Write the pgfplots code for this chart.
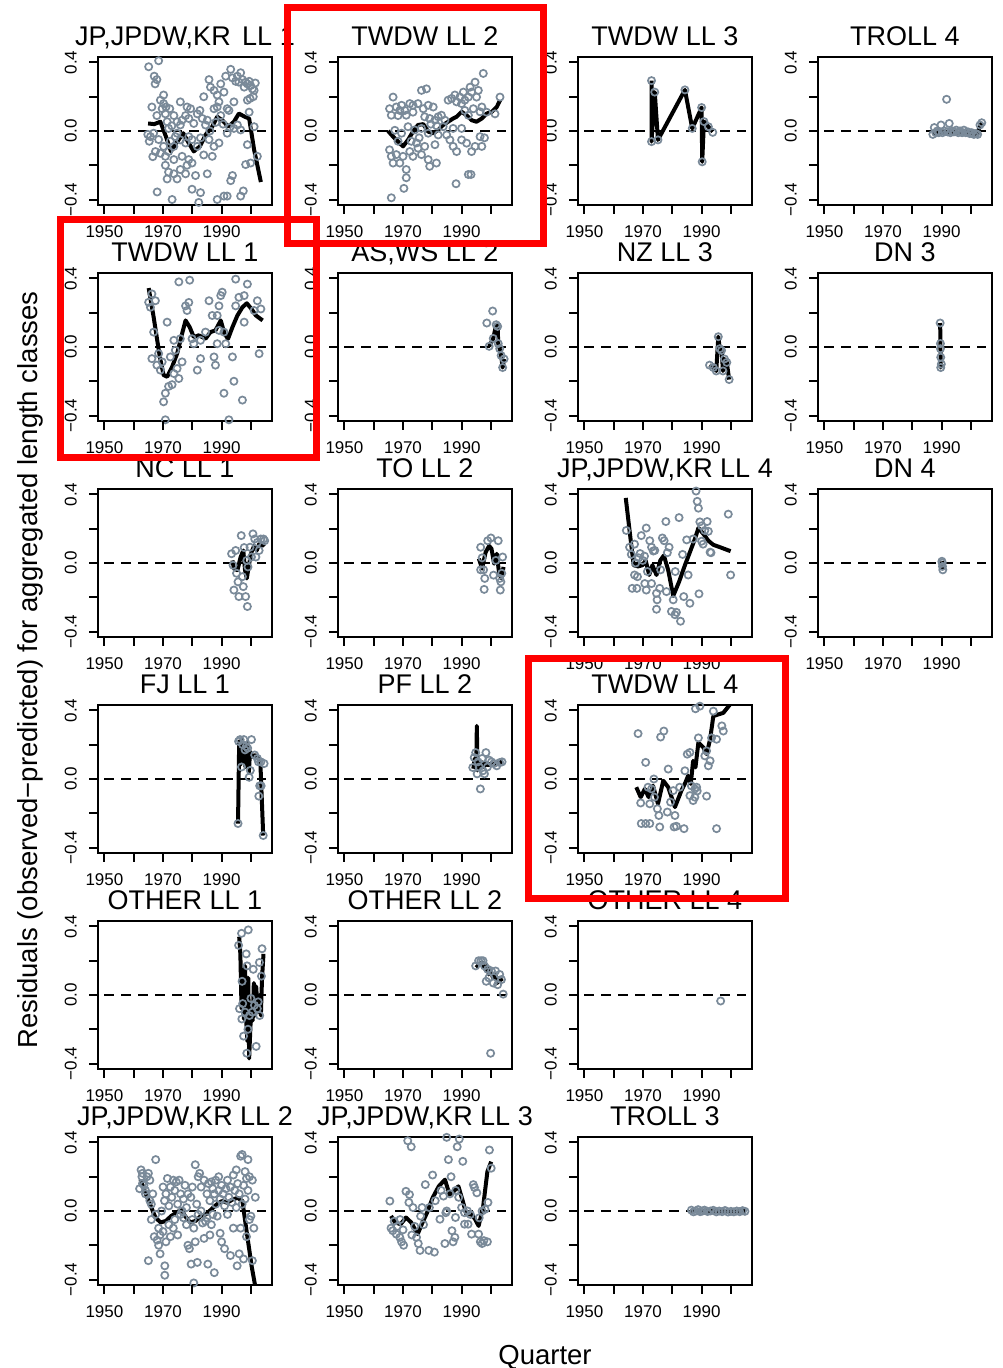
\documentclass[border=0pt]{standalone}
\usepackage{pgfplots}
\pgfplotsset{compat=1.18}
\usepackage{fontspec}
\setmainfont{Liberation Sans}
\definecolor{ptcol}{RGB}{122,138,153}
\newcommand\ticksize{\fontsize{17}{17}\selectfont}
\newcommand\titlesize{\fontsize{27}{27}\selectfont}
\pgfplotsset{
  panel/.style={
    scale only axis, width=174pt, height=148pt, anchor=south west,
    xmin=1947.8, xmax=2007.2, ymin=-0.432, ymax=0.432,
    xtick={1950,1960,1970,1980,1990,2000}, xticklabels={1950,,1970,,1990,},
    ytick={-0.4,-0.2,0,0.2,0.4}, yticklabels={−0.4,,0.0,,0.4},
    tick align=outside, major tick length=8pt,
    every major tick/.append style={black, line width=2pt},
    axis line style={black, line width=2pt},
    xtick pos=left, ytick pos=left,
    tick label style={font=\ticksize},
    xticklabel style={anchor=north, inner sep=0pt, yshift=-12pt},
    yticklabel style={rotate=90, anchor=south, inner sep=0pt, yshift=13pt},
    title style={font=\titlesize, at={(0.5,1)}, anchor=base, yshift=5pt, inner sep=0pt},
  },
  pts/.style={only marks, mark=o, mark size=3.6pt, mark options={draw=ptcol, line width=1.7pt}},
  ln/.style={black, line width=4pt, no marks, line join=round},
  zl/.style={black, line width=1.9pt, dash pattern=on 10pt off 7pt, no marks},
}
\newcommand\zeroline{\addplot[zl] coordinates {(1950,0) (2005,0)};}
\begin{document}
\begin{tikzpicture}[x=1pt,y=1pt]
\useasboundingbox (0,0) rectangle (1003,1368);

% ---------- Row 1 ----------
\begin{axis}[panel, at={(98pt,1163pt)}, title={JP,JPDW,KR\ \hspace{4pt}LL 1}]
\zeroline
\addplot[pts] coordinates {(1965.1,0.375)(1968.5,0.41)(1967.0,0.32)(1967.9,0.30)(1967.3,0.275)(1970.2,0.21)(1969.1,0.18)
(1970.2,0.16)(1969.7,0.13)(1970.8,0.10)(1967.9,0.09)(1966.2,0.14)(1971.4,0.054)(1971.9,0.015)(1966.8,-0.013)(1965.7,-0.033)(1968.5,-0.05)(1970.2,-0.09)(1971.9,-0.12)(1973.7,-0.09)(1969.1,-0.13)(1970.8,-0.2)(1971.9,-0.24)(1973.7,-0.25)(1971.4,-0.28)(1974.8,-0.28)(1973.1,-0.4)(1975.9,-0.225)(1977.7,-0.25)(1978.2,-0.2)(1979.9,-0.187)(1981.1,-0.26)(1979.9,-0.34)(1982.8,-0.36)(1982.2,-0.417)(1985.1,-0.25)(1983.9,-0.14)(1986.8,-0.148)(1988.5,-0.4)(1990.8,-0.38)(1991.9,-0.38)(1993.1,-0.29)(1993.7,-0.26)(1996.5,-0.38)(1997.4,-0.35)(1998.2,-0.196)(1999.9,-0.187)(1998.8,-0.08)(2002.2,-0.148)(2001.1,0.025)
(1975.9,0.17)(1978.2,0.14)(1979.4,0.13)(1976.5,0.063)(1977.7,0.09)(1974.8,0.054)(1975.9,0.035)(1973.7,0.09)(1978.8,0.073)(1980.5,0.044)(1981.7,0.10)(1982.6,0.12)(1983.9,0.2)(1983.4,0.073)(1984.5,0.035)(1985.1,0.063)(1985.7,0.30)(1986.2,0.256)(1987.4,0.13)(1988.5,0.14)(1989.1,0.17)(1989.7,0.275)(1989.7,0.09)(1990.8,0.227)(1991.4,0.32)(1991.9,0.13)(1992.5,0.12)(1993.1,0.36)(1993.7,0.31)(1994.2,0.17)(1994.8,0.29)(1995.4,0.32)(1995.9,0.285)(1996.5,0.34)(1997.1,0.30)(1997.7,0.256)(1998.2,0.285)(1998.8,0.275)(1999.4,0.29)(1999.9,0.265)(2000.5,0.246)(2001.1,0.237)(1999.7,0.19)(1998.8,0.18)(1995.4,0.035)(1994.2,0.015)(1996.5,0.006)(1999.4,0.11)(1988.5,0.21)(1987.4,0.237)
(1974.2,-0.033)(1975.9,-0.052)(1977.7,-0.07)(1978.8,-0.033)(1979.9,-0.05)(1981.7,-0.09)(1982.8,-0.04)(1985.7,-0.05)(1987.4,-0.09)(1989.1,-0.07)(1991.9,-0.013)(1976.5,-0.148)(1978.8,-0.167)(1973.7,-0.167)(1974.8,-0.013)(1972.5,-0.06)(1970.8,-0.148)(1967.4,-0.12)(1964.8,-0.02)(1965.3,-0.06)(1966.5,-0.15)(1968,-0.356)(1972.3,0.13)(1971.0,0.14)(1973.0,0.03)(1992.8,0.02)(1990.5,0.04)(1986.0,0.0)(1988.0,0.05)(2000.8,0.2)(2001.5,0.28)};
\addplot[ln] coordinates {(1964.9,0.044)(1967.0,0.040)(1969.1,0.054)(1971.0,-0.033)(1972.7,-0.119)(1974.5,-0.071)(1976.9,-0.013)(1978.8,-0.071)(1980.5,-0.119)(1982.6,-0.090)(1984.5,-0.023)(1986.8,0.025)(1988.5,0.083)(1990.2,0.063)(1992.3,0.025)(1994.2,0.054)(1995.9,0.102)(1997.9,0.083)(1999.4,0.073)(2001.1,-0.110)(2003.4,-0.298)};
\end{axis}

\begin{axis}[panel, at={(338pt,1163pt)}, title={TWDW LL 2}]
\zeroline
\addplot[pts] coordinates {(1966.6,0.198)(1965.4,0.13)(1966,0.092)(1967.7,0.14)(1968.9,0.12)(1969.5,0.15)(1968.3,0.09)(1970.6,0.12)(1971.1,0.092)(1972.3,0.16)(1973.4,0.15)(1973.4,0.11)(1975.1,0.16)(1976.3,0.237)(1978,0.246)(1976.9,0.13)(1978.6,0.15)(1980.3,0.14)(1977.4,0.083)(1979.1,0.073)(1980.9,0.063)(1982,0.083)(1983.1,0.092)(1984.3,0.063)(1985.4,0.18)(1986.6,0.19)(1987.7,0.21)(1988.3,0.17)(1989.4,0.198)(1990.6,0.227)(1991.1,0.18)(1992.3,0.198)(1992.9,0.256)(1993.4,0.227)(1994.6,0.285)(1995.1,0.198)(1995.7,0.237)(1997.4,0.336)(1996.9,0.14)(1996.3,0.112)(1994,0.13)(1992.3,0.092)(1991.1,0.12)(1990,0.16)
(1965.4,-0.11)(1966,-0.148)(1966.6,-0.187)(1967.7,-0.138)(1968.9,-0.187)(1970,-0.148)(1971.1,-0.225)(1972.3,-0.12)(1973.4,-0.148)(1974.6,-0.07)(1975.1,-0.1)(1976.3,-0.138)(1977.4,-0.09)(1978.6,-0.167)(1979.1,-0.206)(1980.9,-0.08)(1981.4,-0.187)(1984.9,-0.023)(1986,-0.052)(1987.1,-0.09)(1988.3,-0.12)(1990,-0.052)(1991.7,-0.071)(1993.4,-0.12)(1994.6,-0.09)(1996.3,-0.033)(1996.9,-0.09)(1966,-0.39)(1970.3,-0.335)(1971.1,-0.273)(1988.1,-0.308)(1992.3,-0.254)(1993.2,-0.254)(2003.1,0.198)(2001.4,0.10)(1998.5,0.11)(1997.8,-0.04)
(1967.2,0.004)(1969.5,-0.013)(1971.7,0.025)(1974,0.006)(1976.3,0.015)(1978.6,-0.013)(1982,-0.023)(1983.7,0.025)(1987.1,0.015)(1990,0.015)(1972.8,-0.06)(1975.5,-0.04)(1979.5,0.04)(1968.3,-0.06)(1981.5,0.03)};
\addplot[ln] coordinates {(1964.9,0)(1966.6,-0.033)(1968.3,-0.062)(1970.0,-0.09)(1971.7,-0.052)(1973.4,-0.004)(1975.1,0.035)(1976.9,0.04)(1978.6,-0.004)(1980.3,-0.013)(1982.0,0.006)(1983.7,0.035)(1985.4,0.054)(1987.1,0.073)(1988.3,0.083)(1990.0,0.112)(1991.7,0.092)(1993.4,0.063)(1995.1,0.054)(1996.9,0.073)(1998.6,0.102)(2000.3,0.112)(2002.0,0.14)(2003.1,0.179)};
\end{axis}

\begin{axis}[panel, at={(578pt,1163pt)}, title={TWDW LL 3}]
\zeroline
\addplot[pts] coordinates {(1972.9,0.294)(1972.9,-0.062)(1974.0,0.227)(1975.1,-0.052)(1984.3,0.24)(1986.8,0.015)(1990,0.137)(1990.2,-0.18)(1990.8,0.055)(1992.3,0.025)(1993.8,-0.008)};
\addplot[ln] coordinates {(1972.9,0.294)(1972.9,-0.062)(1974.0,0.227)(1975.1,-0.052)(1984.3,0.24)(1986.8,0.015)(1990,0.137)(1990.2,-0.18)(1990.8,0.055)(1992.3,0.025)(1993.8,-0.004)};
\end{axis}

\begin{axis}[panel, at={(818pt,1163pt)}, title={TROLL 4}]
\zeroline
\addplot[pts] coordinates {(1987.0,-0.02)(1987.5,0.02)(1988,-0.01)(1988.5,0.0)(1989,-0.01)(1989.8,0.035)(1990.3,-0.01)(1991,0.0)(1991.7,0.185)(1992,-0.005)(1992.6,0.044)(1993,-0.01)(1993.6,0.0)(1994.2,-0.005)(1995,0.005)(1995.7,-0.01)(1996.3,0.0)(1997,-0.01)(1997.6,0.005)(1998.2,-0.01)(1999,-0.005)(1999.6,-0.015)(2000.3,-0.01)(2001,-0.02)(2001.7,-0.015)(2002.3,-0.02)(2003.1,0.035)(2003.7,0.048)};
\addplot[ln] coordinates {(1987,-0.015)(1988,-0.01)(1989,-0.005)(1990,-0.01)(1991,-0.005)(1992,-0.008)(1993,-0.01)(1994,-0.005)(1995,-0.008)(1996,-0.01)(1997,-0.008)(1998,-0.01)(1999,-0.012)(2000,-0.012)(2001,-0.015)(2002,-0.018)(2002.7,0.01)(2003.2,0.035)(2003.7,0.045)};
\end{axis}

% ---------- Row 2 ----------
\begin{axis}[panel, at={(98pt,947pt)}, title={TWDW LL 1}]
\zeroline
\addplot[pts] coordinates {(1965.1,0.261)(1965.7,0.232)(1967.4,0.27)(1966.2,0.31)(1966.8,0.087)(1966.2,-0.068)(1967.9,-0.106)(1969.1,-0.135)(1968.5,-0.039)(1969.7,-0.087)(1970.8,-0.27)(1970.2,-0.32)(1971.9,-0.23)(1973.1,-0.22)(1970.8,-0.425)(1971.4,0.145)(1972.5,-0.058)(1973.7,0.039)(1975.9,0.048)(1974.2,-0.019)(1976.5,-0.087)(1974.8,-0.126)(1975.4,-0.184)(1973.7,-0.155)(1975.4,0.38)(1979.1,0.39)(1977.7,0.24)(1978.8,0.26)(1978.2,0.213)(1979.9,0.048)(1981.7,-0.135)(1982.8,-0.068)(1985.7,0.27)(1986.8,0.184)(1987.4,-0.058)(1987.9,-0.106)(1988.5,0.184)(1989.1,0.24)(1989.7,0.3)(1990.2,0.32)(1988.5,0.019)(1990.8,0.087)(1991.4,0.019)(1990.8,-0.27)(1992.5,-0.425)(1993.7,-0.058)(1994.2,-0.2)(1994.8,0.396)(1995.9,0.29)(1997.1,-0.31)(1997.7,0.3)(1998.8,0.367)(1997.7,0.145)(2002.2,0.27)(2003.4,0.222)(2002.8,-0.039)(2001.1,0.213)(1994.8,0.24)(1989.1,0.097)(1984.5,0.087)(1982.8,0.039)(1980.5,0.019)};
\addplot[ln] coordinates {(1965.1,0.344)(1966.8,0.174)(1968.9,-0.058)(1970.2,-0.164)(1971.4,-0.174)(1973.1,-0.116)(1974.8,-0.039)(1976.5,0.077)(1977.7,0.155)(1979.1,0.116)(1980.5,0.058)(1982.2,0.068)(1984.5,0.048)(1986.2,0.087)(1987.9,0.097)(1989.7,0.155)(1991.0,0.077)(1992.2,0.048)(1993.7,0.116)(1995.4,0.184)(1997.1,0.232)(1998.6,0.255)(2000.2,0.222)(2001.7,0.184)(2004.0,0.155)};
\end{axis}

\begin{axis}[panel, at={(338pt,947pt)}, title={AS,WS LL 2}]
\zeroline
\addplot[pts] coordinates {(1998.6,0.14)(2000.6,0.21)(1999.4,0.004)(2000.8,0.05)(2001.8,0.13)(2002.3,0.12)(2002.5,0.02)(2003.0,-0.01)(2003.5,-0.05)(2004.0,-0.12)(2004.5,-0.07)};
\addplot[ln] coordinates {(1999.4,0.004)(2000.8,0.05)(2001.8,0.13)(2002.3,0.12)(2002.5,0.02)(2003.0,-0.01)(2003.5,-0.05)(2004.0,-0.12)(2004.5,-0.07)};
\end{axis}

\begin{axis}[panel, at={(578pt,947pt)}, title={NZ LL 3}]
\zeroline
\addplot[pts] coordinates {(1992.7,-0.106)(1994.0,-0.12)(1995.0,-0.14)(1995.7,0.06)(1996.2,-0.01)(1996.8,-0.02)(1997.3,-0.14)(1997.8,-0.07)(1998.6,-0.09)(1999.4,-0.19)};
\addplot[ln] coordinates {(1992.7,-0.106)(1994.0,-0.12)(1995.0,-0.14)(1995.7,0.06)(1996.2,-0.01)(1996.8,-0.02)(1997.3,-0.14)(1997.8,-0.07)(1998.6,-0.09)(1999.4,-0.19)};
\end{axis}

\begin{axis}[panel, at={(818pt,947pt)}, title={DN 3}]
\zeroline
\addplot[pts] coordinates {(1989.5,0.14)(1989.6,0.02)(1989.6,-0.01)(1989.7,-0.06)(1989.7,-0.12)(1989.9,-0.10)};
\addplot[ln] coordinates {(1989.5,0.14)(1989.6,0.02)(1989.6,-0.01)(1989.7,-0.06)(1989.7,-0.12)(1989.9,-0.10)};
\end{axis}

% ---------- Row 3 ----------
\begin{axis}[panel, at={(98pt,731pt)}, title={NC LL 1}]
\zeroline
\addplot[pts] coordinates {(1993.4,0.054)(1993.9,-0.013)(1994.2,-0.158)(1994.8,0.073)(1995.6,-0.11)(1995.9,-0.196)(1996.7,0.16)(1997.1,-0.08)(1997.4,-0.138)(1998.2,-0.196)(1998.8,-0.254)(1999,-0.023)(1999.7,0.092)(2000.2,0.035)(2000.7,0.17)(2001.3,0.14)(2001.7,0.035)(2002.2,0.12)(2002.8,0.073)(2003.4,0.14)(2004.3,0.14)(2004.7,0.13)(1998.6,0.015)(1995.1,-0.06)(1997.7,0.09)};
\addplot[ln] coordinates {(1993.7,0.015)(1994.2,-0.033)(1995.4,-0.042)(1996.5,0.035)(1997.4,0.073)(1998,-0.042)(1998.6,-0.09)(1999.4,-0.004)(2000.2,0.063)(2001.1,0.10)(2002,0.073)(2002.8,0.11)(2003.9,0.10)(2004.7,0.115)};
\end{axis}

\begin{axis}[panel, at={(338pt,731pt)}, title={TO LL 2}]
\zeroline
\addplot[pts] coordinates {(1996.5,0.092)(1997,0.03)(1997.5,-0.04)(1997.9,-0.09)(1997.7,-0.154)(1998.9,0.13)(2000.0,0.146)(2000.9,-0.071)(2002.5,0.13)(2003.2,-0.158)(2003.0,-0.09)(2003.4,-0.11)(2004.0,0.035)(2003.7,-0.06)(1996.5,-0.04)(2001.7,0.015)};
\addplot[ln] coordinates {(1995.9,0.025)(1997,-0.033)(1998.2,0.063)(1999.4,0.10)(2000.2,0.083)(2001.1,-0.004)(2002,0.054)(2002.8,-0.06)(2003.6,-0.09)(2004.3,-0.023)};
\end{axis}

\begin{axis}[panel, at={(578pt,731pt)}, title={JP,JPDW,KR LL 4}]
\zeroline
\addplot[pts] coordinates {(1964.3,0.19)(1965.4,0.092)(1966,0.05)(1967.1,0.11)(1966.3,-0.148)(1967.1,-0.07)(1968.1,-0.08)(1967.9,-0.148)(1969.4,0.16)(1969,0.055)(1969.9,0.015)(1970.6,-0.12)(1971.1,0.204)(1971.1,-0.158)(1972.3,0.13)(1972.9,0.092)(1973.5,0.07)(1972.9,-0.12)(1974,0.073)(1974.6,-0.177)(1974.8,-0.215)(1974.6,-0.27)(1975.7,-0.148)(1976.6,0.146)(1977.2,0.13)(1977.8,0.242)(1978,-0.167)(1978.3,0.06)(1978.9,0.092)(1979.7,-0.283)(1980.3,-0.215)(1980.9,-0.302)(1981.4,-0.288)(1982.3,0.265)(1982.8,-0.34)(1983.5,0.05)(1983.9,-0.196)(1984.9,0.135)(1985.4,-0.07)(1986,-0.235)(1987.1,0.14)(1988.1,0.42)(1988.5,0.36)(1988.9,0.32)(1989.1,-0.18)(1989.4,0.24)(1990,0.127)(1990.5,0.11)(1991.9,0.242)(1992.3,0.185)(1992.9,0.063)(1993.2,0.06)(1990,0.217)(1999.1,0.285)(1999.9,-0.07)(1991.1,0.19)(1967.5,0.0)(1968.5,0.03)(1971.5,-0.05)(1976,-0.04)(1981,-0.05)(1970.5,0.04)};
\addplot[ln] coordinates {(1964.1,0.38)(1965.4,0.19)(1966.8,-0.013)(1968.3,-0.02)(1969.8,-0.013)(1970.9,0.015)(1972.1,-0.07)(1973.2,-0.013)(1974.6,-0.07)(1975.9,0.015)(1977.1,0.044)(1978.6,-0.042)(1980.3,-0.192)(1982.3,-0.11)(1984.3,-0.013)(1986.0,0.063)(1987.7,0.14)(1988.9,0.204)(1990.6,0.17)(1992.3,0.13)(1994.0,0.106)(1996.3,0.092)(1998.3,0.079)(1999.9,0.069)};
\end{axis}

\begin{axis}[panel, at={(818pt,731pt)}, title={DN 4}]
\zeroline
\addplot[pts] coordinates {(1990.1,0.01)(1990.2,0.0)(1990.3,-0.02)(1990.4,-0.04)};
\addplot[ln] coordinates {(1990.1,0.01)(1990.3,-0.03)(1990.4,-0.04)};
\end{axis}

% ---------- Row 4 ----------
\begin{axis}[panel, at={(98pt,515pt)}, title={FJ LL 1}]
\zeroline
\addplot[pts] coordinates {(1995.6,-0.26)(1995.8,0.22)(1996.3,0.23)(1996.8,0.07)(1997.2,0.2)(1997.6,0.23)(1998,0.17)(1998.4,0.19)(1998.9,0.18)(1999.4,0.01)(2000.2,0.23)(1999.8,0.05)(2001.3,0.14)(2002.2,0.12)(2002.6,0.1)(2003,-0.04)(2002.7,-0.1)(2003.4,0.1)(2004.5,0.09)(2004.2,-0.33)(2003.5,-0.04)};
\addplot[ln] coordinates {(1995.6,-0.26)(1996.0,0.22)(1996.3,0.08)(1996.6,0.14)(1997.0,0.23)(1997.4,0.1)(1997.8,0.2)(1998.1,0.07)(1998.3,0.13)(1998.8,0.21)(1999.3,0.04)(1999.7,0.16)(2000.5,0.13)(2001.5,0.14)(2002.5,0.12)(2003.2,0.11)(2004.2,-0.33)};
\end{axis}

\begin{axis}[panel, at={(338pt,515pt)}, title={PF LL 2}]
\zeroline
\addplot[pts] coordinates {(1993.8,0.067)(1994.3,0.125)(1994.8,0.154)(1995.3,0.03)(1996.4,-0.058)(1997.3,0.048)(1998.3,0.154)(1998.8,0.07)(1997.8,0.03)(1997,0.12)(2002,0.077)(2003,0.096)(2000.2,0.1)(2001,0.09)(1999.4,0.11)(1996,0.07)(1995.6,0.1)(2003.8,0.1)};
\addplot[ln] coordinates {(1994.0,0.06)(1994.5,0.12)(1995.0,0.08)(1995.2,0.31)(1995.4,0.05)(1995.8,0.09)(1996.3,0.06)(1996.8,0.1)(1997.5,0.07)(1998.2,0.09)(1999,0.08)(2000,0.09)(2001.5,0.09)(2003,0.1)(2004,0.1)};
\end{axis}

\begin{axis}[panel, at={(578pt,515pt)}, title={TWDW LL 4}]
\zeroline
\addplot[pts] coordinates {(1968.3,0.265)(1970.9,0.097)(1969.2,-0.14)(1969.4,-0.26)(1970.9,-0.26)(1972.3,-0.26)(1972.3,-0.145)(1971.7,-0.048)(1972.9,-0.058)(1973.7,0.0)(1973.9,-0.106)(1974.9,-0.174)(1975.4,-0.213)(1975.7,-0.28)(1976,0.245)(1977.1,0.28)(1978.3,-0.193)(1978.6,0.058)(1979.4,-0.135)(1980.3,-0.068)(1980.9,-0.213)(1980.6,-0.28)(1981.4,-0.276)(1982.5,-0.048)(1984,-0.29)(1984.3,0.048)(1985.1,0.145)(1986,0.155)(1986,-0.097)(1987.1,-0.126)(1987.7,-0.106)(1987.7,-0.058)(1988.3,-0.048)(1987.9,0.41)(1988.9,0.24)(1989.4,0.425)(1991.1,0.135)(1991.7,0.164)(1991.7,-0.1)(1992.3,0.077)(1992.9,0.106)(1993.4,0.24)(1994,0.396)(1995.1,-0.29)(1995.1,0.232)(1996.9,0.31)(1997.4,0.28)(1988.5,-0.07)(1986.5,-0.04)};
\addplot[ln] coordinates {(1967.7,-0.048)(1969.2,-0.106)(1970.6,-0.058)(1971.9,-0.106)(1973.4,-0.039)(1975.1,-0.145)(1976.9,-0.01)(1978.6,-0.048)(1980.9,-0.164)(1983.1,-0.068)(1984.5,-0.019)(1985.4,0.019)(1986.3,-0.029)(1987.1,0.106)(1987.9,0.068)(1988.9,0.213)(1990.6,0.184)(1991.7,0.145)(1992.9,0.232)(1994.0,0.367)(1995.7,0.377)(1997.4,0.386)(1999.7,0.435)};
\end{axis}

% ---------- Row 5 ----------
\begin{axis}[panel, at={(98pt,299pt)}, title={OTHER LL 1}]
\zeroline
\addplot[pts] coordinates {(1995.8,0.29)(1996.8,0.36)(1999.1,0.38)(1998.4,0.24)(1998.7,0.17)(2000.8,0.15)(2002.9,0.19)(2003.8,0.27)(2003.6,0.11)(1996.1,-0.08)(1996.9,-0.14)(1997.5,-0.24)(1998.6,-0.34)(2001.8,-0.3)(2002.2,-0.08)(2002.5,-0.04)(1997.2,-0.05)(1998,-0.1)(1999.5,-0.12)(2000,-0.02)(2000.5,-0.1)(2001.2,-0.06)(2003,-0.12)(1997,0.08)(1999,-0.2)};
\addplot[ln] coordinates {(1996,0.34)(1996.4,0.24)(1996.8,-0.08)(1997.2,0.05)(1997.6,-0.14)(1998,0.17)(1998.4,-0.15)(1998.8,-0.27)(1999.1,0.1)(1999.4,-0.37)(1999.8,-0.2)(2000.2,-0.05)(2000.6,-0.15)(2001,0.07)(2001.4,-0.12)(2001.8,0.05)(2002.2,-0.06)(2002.6,-0.1)(2003,0.0)(2003.4,-0.12)(2003.8,0.1)(2004.3,0.24)};
\end{axis}

\begin{axis}[panel, at={(338pt,299pt)}, title={OTHER LL 2}]
\zeroline
\addplot[pts] coordinates {(1994.8,0.17)(1995.8,0.2)(1996.6,0.2)(1997.3,0.2)(1997.8,0.17)(1998.4,0.08)(1998.9,0.15)(1999.3,0.1)(2000.2,0.14)(2000.8,0.07)(2001.6,0.14)(2002.3,0.06)(2003,0.12)(2003.6,0.09)(2004.2,0.005)(1999.9,-0.34)};
\addplot[ln] coordinates {(1995,0.16)(1996,0.18)(1997,0.19)(1998,0.15)(1998.7,0.17)(1999.3,0.12)(2000,0.14)(2000.7,0.1)(2001.5,0.12)(2002.2,0.07)(2003,0.1)(2003.8,0.08)};
\end{axis}

\begin{axis}[panel, at={(578pt,299pt)}, title={OTHER LL 4}]
\zeroline
\addplot[pts] coordinates {(1996.5,-0.035)};
\end{axis}

% ---------- Row 6 ----------
\begin{axis}[panel, at={(98pt,83pt)}, title={JP,JPDW,KR LL 2}]
\zeroline
\addplot[pts] coordinates {(1962,0.13)(1962.5,0.24)(1963,0.22)(1962.8,0.2)(1963.5,0.15)(1964,0.12)(1964.5,0.2)(1965,0.22)(1965.5,0.18)(1964,0.1)(1963,0.16)(1965.5,0.06)(1966,0.04)(1966,-0.05)(1965,-0.29)(1966.5,0.1)(1967,-0.15)(1967.5,0.3)
(1967.5,-0.02)(1968,-0.17)(1968.5,-0.1)(1968.5,-0.2)(1969,-0.14)(1969,-0.25)(1969.5,0.0)(1970,-0.12)(1970,0.14)(1970.5,0.06)(1970.6,-0.32)(1970.6,-0.375)(1971,0.1)(1971,-0.18)(1971.5,0.19)(1972,-0.08)(1972,0.03)(1972.5,0.14)(1972.5,-0.15)
(1973,0.08)(1973.5,0.18)(1973.5,-0.1)(1974,0.12)(1974,-0.05)(1974.5,0.17)(1975,0.04)(1975,-0.14)(1975.5,0.18)(1976,0.1)(1976,-0.02)(1976.5,0.0)(1977,0.07)(1977,-0.04)(1977.5,0.15)(1978,-0.08)(1978,0.02)(1978.5,0.1)(1978.5,-0.2)
(1979,-0.22)(1979.5,0.08)(1979.6,-0.31)(1980,0.14)(1980,-0.05)(1980.5,-0.42)(1980.5,-0.1)(1981,0.27)(1981,-0.18)(1981.5,0.04)(1981.7,-0.3)(1982,0.2)(1982,-0.02)(1982.5,0.22)(1983,0.0)(1983,0.14)(1983.5,-0.07)(1984,0.18)(1984,-0.16)(1984.5,-0.06)
(1985,0.1)(1985,-0.04)(1985.3,-0.31)(1985.5,0.16)(1986,-0.14)(1986,0.06)(1986.5,0.17)(1986.5,-0.08)(1987,0.13)(1987,-0.02)(1987.5,-0.36)(1987.5,0.1)(1988,0.18)(1988,0.04)(1988.5,-0.03)(1989,0.12)(1989,0.2)(1989.5,0.07)(1989.5,-0.13)(1990,0.15)(1990,-0.18)(1990.5,0.1)
(1991,0.03)(1991,-0.22)(1991.5,0.13)(1992,0.18)(1992,-0.02)(1992.5,0.08)(1993,0.14)(1993,-0.26)(1993.5,0.05)(1994,0.21)(1994,-0.1)(1994.5,0.12)(1995,0.24)(1995,0.02)(1995.3,-0.32)(1995.5,0.16)(1996,-0.25)(1996,0.1)(1996.5,0.32)(1996.5,-0.1)
(1997,0.33)(1997,0.04)(1997.5,0.15)(1997.5,-0.28)(1998,0.23)(1998,0.07)(1998.5,0.19)(1998.5,-0.15)(1999,0.3)(1999,0.12)(1999.5,-0.05)(2000,-0.03)(2000.5,-0.29)(2000.5,0.18)(2001,-0.1)(2001.5,0.08)(1999.5,0.2)};
\addplot[ln] coordinates {(1962.3,0.183)(1963.8,0.115)(1965.6,0.038)(1967.4,-0.038)(1969.2,-0.067)(1971.0,-0.058)(1972.8,-0.029)(1974.6,-0.01)(1976.3,0.01)(1977.5,-0.029)(1979.3,-0.067)(1981.1,-0.058)(1982.9,-0.029)(1984.7,-0.019)(1986.5,0.01)(1988.3,0.038)(1990.1,0.058)(1991.9,0.048)(1993.7,0.067)(1995.5,0.077)(1997.1,0.058)(1998.5,-0.115)(2000.3,-0.327)(2001.7,-0.46)};
\end{axis}

\begin{axis}[panel, at={(338pt,83pt)}, title={JP,JPDW,KR LL 3}]
\zeroline
\addplot[pts] coordinates {(1965.5,0.058)(1965.9,-0.1)(1966.5,-0.115)(1967.7,-0.135)(1968.9,-0.154)(1969.5,-0.18)(1970.2,-0.2)(1971,0.115)(1972.2,0.096)(1973.4,0.02)(1974.6,-0.154)(1975.2,-0.19)(1975.8,-0.23)(1971.6,0.41)(1972.8,0.375)(1977.6,0.154)(1978.8,-0.23)(1980.1,0.21)(1980.7,-0.24)(1984.3,-0.19)(1984.6,-0.01)(1984.9,0.0)(1985.5,0.3)(1986.4,0.2)(1986.7,-0.115)(1987.1,-0.18)(1987.7,-0.154)(1988.5,0.375)(1989.2,0.42)(1990.4,0.29)(1984.9,0.43)(1991,-0.01)(1991,-0.077)(1992.2,-0.077)(1993.4,-0.135)(1994,0.154)(1994.4,0.137)(1995.2,0.106)(1995.8,-0.135)(1996.4,-0.18)(1997,-0.19)(1997.6,-0.173)(1998.8,-0.18)(1999.5,0.356)(2000.1,0.25)(1987.9,-0.038)(1982.6,-0.048)(1983.8,0.087)(1967,-0.06)(1968,-0.09)(1969,-0.05)(1970,-0.11)(1973,-0.14)(1974,-0.09)(1976,-0.03)(1977,-0.08)(1979,0.02)(1981,0.06)(1983,0.12)(1986,0.1)(1988,0.12)(1989,0.08)(1990,0.02)(1992,0.0)(1993,-0.02)(1996,-0.04)(1997,0.0)(1998,0.01)(1999,0.05)(1972,0.05)(1976.5,0.02)};
\addplot[ln] coordinates {(1965.9,-0.029)(1967.3,-0.067)(1969.2,-0.077)(1971,-0.038)(1972.8,-0.067)(1975,-0.135)(1976.4,-0.077)(1978.2,-0.01)(1980.1,0.077)(1982.2,0.144)(1984.3,0.183)(1985.9,0.096)(1987.3,0.115)(1988.9,0.144)(1990.4,0.058)(1991.6,-0.019)(1993.4,-0.019)(1994.6,-0.048)(1995.8,-0.087)(1997.3,0.019)(1998.8,0.23)(2000.1,0.288)};
\end{axis}

\begin{axis}[panel, at={(578pt,83pt)}, title={TROLL 3}]
\zeroline
\addplot[pts] coordinates {(1986.5,0.005)(1987.2,-0.005)(1988,0.0)(1988.8,0.008)(1989.5,-0.004)(1990.3,0.0)(1991,0.005)(1992,-0.003)(1993,0.0)(1994,0.004)(1995,-0.005)(1996,0.0)(1997,-0.004)(1998,0.003)(1999,-0.006)(2000,-0.002)(2001,-0.005)(2002,0.0)(2003,-0.004)(2004,0.002)(2004.8,-0.002)};
\addplot[ln] coordinates {(1986.5,0.002)(1988,0.0)(1990,0.0)(1992,-0.002)(1994,0.0)(1996,-0.002)(1998,-0.002)(2000,-0.003)(2002,-0.002)(2004.8,0.0)};
\end{axis}

% ---------- axis tick marks (frame decoration, outside each panel box) ----------
\foreach \PX/\PY in {98/1163,338/1163,578/1163,818/1163,98/947,338/947,578/947,818/947,98/731,338/731,578/731,818/731,98/515,338/515,578/515,98/299,338/299,578/299,98/83,338/83,578/83} {
  \foreach \k in {0,...,5} {\draw[black, line width=2pt] (\PX+6.444+29.293*\k, \PY) -- ++(0,-9);}
  \foreach \k in {0,...,4} {\draw[black, line width=2pt] (\PX, \PY+5.481+34.259*\k) -- ++(-9,0);}
}

% ---------- outer labels ----------
\node[rotate=90, anchor=base, font=\fontsize{27.5}{27.5}\selectfont, inner sep=0pt] at (37,698) {Residuals (observed−predicted) for aggregated length classes};
\node[anchor=base, font=\fontsize{27.5}{27.5}\selectfont, inner sep=0pt] at (545,4) {Quarter};

% ---------- red highlight boxes ----------
\draw[red, line width=7pt] (287,1124) rectangle (543,1360.5);
\draw[red, line width=7pt] (60,910) rectangle (316.5,1148);
\draw[red, line width=7pt] (528.5,469) rectangle (785.5,709.5);
\end{tikzpicture}
\end{document}
